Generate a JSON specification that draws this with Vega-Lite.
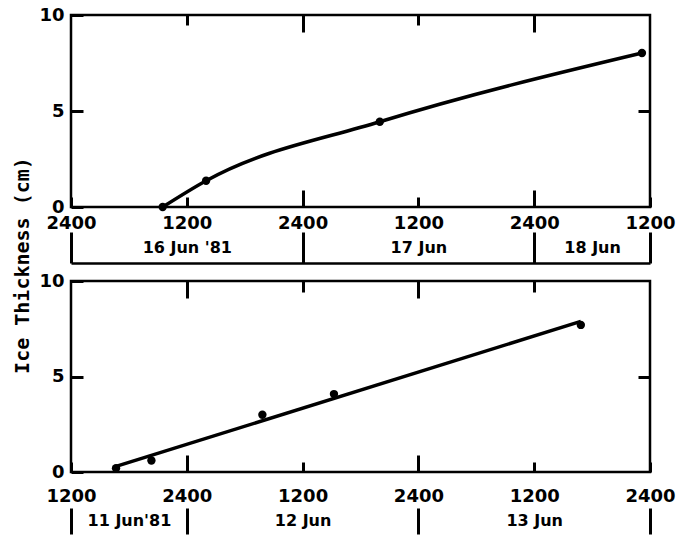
{
  "$schema": "https://vega.github.io/schema/vega-lite/v6.json",
  "padding": {"left": 10, "top": 4, "right": 0, "bottom": 0},
  "bounds": "flush",
  "spacing": 74,
  "config": {
    "view": {"stroke": "#000", "strokeWidth": 2.5},
    "axis": {
      "grid": false, "domain": false, "ticks": true,
      "labelFont": "DejaVu Sans", "labelFontSize": 18, "labelFontWeight": "bold", "labelColor": "#000",
      "tickColor": "#000", "tickWidth": 3, "labelFlush": false, "labelOverlap": false
    }
  },
  "vconcat": [
    {
      "width": 579, "height": 192,
      "data": {
        "values": [
          {"time": "1981-06-16T09:30", "thickness": 0},
          {"time": "1981-06-16T14:00", "thickness": 1.37},
          {"time": "1981-06-17T08:00", "thickness": 4.44},
          {"time": "1981-06-18T11:10", "thickness": 8.02}
        ],
        "format": {"parse": {"time": "date"}}
      },
      "resolve": {"scale": {"x": "independent", "y": "independent"}, "axis": {"x": "independent", "y": "independent"}},
      "layer": [
        {
          "mark": {"type": "line", "interpolate": "monotone", "color": "#000", "strokeWidth": 3.5},
          "encoding": {
            "x": {"field": "time", "type": "temporal",
              "scale": {"domain": [{"year": 1981, "month": "Jun", "date": 16, "hours": 0}, {"year": 1981, "month": "Jun", "date": 18, "hours": 12}]},
              "axis": {"orient": "bottom", "title": null,
                "values": [{"year": 1981, "month": "Jun", "date": 16, "hours": 0}, {"year": 1981, "month": "Jun", "date": 16, "hours": 12}, {"year": 1981, "month": "Jun", "date": 17, "hours": 0}, {"year": 1981, "month": "Jun", "date": 17, "hours": 12}, {"year": 1981, "month": "Jun", "date": 18, "hours": 0}, {"year": 1981, "month": "Jun", "date": 18, "hours": 12}],
                "labelExpr": "hours(datum.value) == 0 ? '2400' : '1200'",
                "tickSize": -10, "labelPadding": 17, "labelBaseline": "top"}},
            "y": {"field": "thickness", "type": "quantitative",
              "scale": {"domain": [0, 10]},
              "axis": {"orient": "left", "values": [0, 5, 10], "tickSize": -12, "labelPadding": 19, "labelBaseline": "middle",
                "title": "Ice Thickness (cm)", "titleAngle": 270, "titleX": -49, "titleY": 250,
                "titleAlign": "center", "titleBaseline": "middle", "titleFont": "DejaVu Sans Mono",
                "titleFontSize": 20, "titleFontWeight": "bold", "titleColor": "#000"}}
          }
        },
        {
          "mark": {"type": "point", "filled": true, "color": "#000", "size": 70, "opacity": 1},
          "encoding": {
            "x": {"field": "time", "type": "temporal",
              "scale": {"domain": [{"year": 1981, "month": "Jun", "date": 16, "hours": 0}, {"year": 1981, "month": "Jun", "date": 18, "hours": 12}]},
              "axis": null},
            "y": {"field": "thickness", "type": "quantitative", "scale": {"domain": [0, 10]}, "axis": null}
          }
        },
        {
          "mark": {"type": "point", "opacity": 0},
          "encoding": {
            "x": {"field": "time", "type": "temporal",
              "scale": {"domain": [{"year": 1981, "month": "Jun", "date": 16, "hours": 0}, {"year": 1981, "month": "Jun", "date": 18, "hours": 12}]},
              "axis": {"orient": "top", "title": null, "labels": false,
                "values": [{"year": 1981, "month": "Jun", "date": 16, "hours": 12}, {"year": 1981, "month": "Jun", "date": 17, "hours": 12}],
                "tickSize": -10}},
            "y": {"field": "thickness", "type": "quantitative", "scale": {"domain": [0, 10]},
              "axis": {"orient": "right", "title": null, "labels": false, "values": [5], "tickSize": -12}}
          }
        },
        {
          "mark": {"type": "point", "opacity": 0},
          "encoding": {
            "x": {"field": "time", "type": "temporal",
              "scale": {"domain": [{"year": 1981, "month": "Jun", "date": 16, "hours": 0}, {"year": 1981, "month": "Jun", "date": 18, "hours": 12}]},
              "axis": {"orient": "top", "title": null, "labels": false,
                "values": [{"year": 1981, "month": "Jun", "date": 17, "hours": 0}, {"year": 1981, "month": "Jun", "date": 18, "hours": 0}],
                "tickSize": -17}},
            "y": {"field": "thickness", "type": "quantitative", "scale": {"domain": [0, 10]}, "axis": null}
          }
        },
        {
          "mark": {"type": "point", "opacity": 0},
          "encoding": {
            "x": {"field": "time", "type": "temporal",
              "scale": {"domain": [{"year": 1981, "month": "Jun", "date": 16, "hours": 0}, {"year": 1981, "month": "Jun", "date": 18, "hours": 12}]},
              "axis": {"orient": "bottom", "title": null, "labels": false,
                "values": [{"year": 1981, "month": "Jun", "date": 17, "hours": 0}, {"year": 1981, "month": "Jun", "date": 18, "hours": 0}],
                "tickSize": -17}},
            "y": {"field": "thickness", "type": "quantitative", "scale": {"domain": [0, 10]}, "axis": null}
          }
        },
        {
          "mark": {"type": "point", "opacity": 0},
          "encoding": {
            "x": {"field": "time", "type": "temporal",
              "scale": {"domain": [{"year": 1981, "month": "Jun", "date": 16, "hours": 0}, {"year": 1981, "month": "Jun", "date": 18, "hours": 12}]},
              "axis": {"orient": "bottom", "offset": 56, "title": null, "labels": false,
                "values": [{"year": 1981, "month": "Jun", "date": 16, "hours": 0}, {"year": 1981, "month": "Jun", "date": 17, "hours": 0}, {"year": 1981, "month": "Jun", "date": 18, "hours": 0}, {"year": 1981, "month": "Jun", "date": 18, "hours": 12}],
                "tickSize": -31, "domain": true, "domainColor": "#000", "domainWidth": 2.5}},
            "y": {"field": "thickness", "type": "quantitative", "scale": {"domain": [0, 10]}, "axis": null}
          }
        },
        {
          "mark": {"type": "point", "opacity": 0},
          "encoding": {
            "x": {"field": "time", "type": "temporal",
              "scale": {"domain": [{"year": 1981, "month": "Jun", "date": 16, "hours": 0}, {"year": 1981, "month": "Jun", "date": 18, "hours": 12}]},
              "axis": {"orient": "bottom", "offset": 56, "title": null, "ticks": false, "tickSize": 0,
                "values": [{"year": 1981, "month": "Jun", "date": 16, "hours": 12}, {"year": 1981, "month": "Jun", "date": 17, "hours": 12}, {"year": 1981, "month": "Jun", "date": 18, "hours": 6}],
                "labelExpr": "date(datum.value) == 16 ? \"16 Jun '81\" : date(datum.value) + ' Jun'",
                "labelBaseline": "middle", "labelPadding": -16, "labelFontSize": 16}},
            "y": {"field": "thickness", "type": "quantitative", "scale": {"domain": [0, 10]}, "axis": null}
          }
        }
      ]
    },
    {
      "width": 579, "height": 191,
      "data": {
        "values": [
          {"time": "1981-06-11T16:40", "thickness": 0.2},
          {"time": "1981-06-11T20:20", "thickness": 0.6},
          {"time": "1981-06-12T07:50", "thickness": 3.0},
          {"time": "1981-06-12T15:15", "thickness": 4.08},
          {"time": "1981-06-13T16:50", "thickness": 7.7}
        ],
        "format": {"parse": {"time": "date"}}
      },
      "resolve": {"scale": {"x": "independent", "y": "independent"}, "axis": {"x": "independent", "y": "independent"}},
      "layer": [
        {
          "transform": [{"regression": "thickness", "on": "time"}],
          "mark": {"type": "line", "color": "#000", "strokeWidth": 3.5},
          "encoding": {
            "x": {"field": "time", "type": "temporal",
              "scale": {"domain": [{"year": 1981, "month": "Jun", "date": 11, "hours": 12}, {"year": 1981, "month": "Jun", "date": 14, "hours": 0}]},
              "axis": {"orient": "bottom", "title": null,
                "values": [{"year": 1981, "month": "Jun", "date": 11, "hours": 12}, {"year": 1981, "month": "Jun", "date": 12, "hours": 0}, {"year": 1981, "month": "Jun", "date": 12, "hours": 12}, {"year": 1981, "month": "Jun", "date": 13, "hours": 0}, {"year": 1981, "month": "Jun", "date": 13, "hours": 12}, {"year": 1981, "month": "Jun", "date": 14, "hours": 0}],
                "labelExpr": "hours(datum.value) == 0 ? '2400' : '1200'",
                "tickSize": -10, "labelPadding": 25, "labelBaseline": "top"}},
            "y": {"field": "thickness", "type": "quantitative",
              "scale": {"domain": [0, 10]},
              "axis": {"orient": "left", "values": [0, 5, 10], "tickSize": -12, "labelPadding": 19, "labelBaseline": "middle", "title": null}}
          }
        },
        {
          "mark": {"type": "point", "filled": true, "color": "#000", "size": 70, "opacity": 1},
          "encoding": {
            "x": {"field": "time", "type": "temporal",
              "scale": {"domain": [{"year": 1981, "month": "Jun", "date": 11, "hours": 12}, {"year": 1981, "month": "Jun", "date": 14, "hours": 0}]},
              "axis": null},
            "y": {"field": "thickness", "type": "quantitative", "scale": {"domain": [0, 10]}, "axis": null}
          }
        },
        {
          "mark": {"type": "point", "opacity": 0},
          "encoding": {
            "x": {"field": "time", "type": "temporal",
              "scale": {"domain": [{"year": 1981, "month": "Jun", "date": 11, "hours": 12}, {"year": 1981, "month": "Jun", "date": 14, "hours": 0}]},
              "axis": {"orient": "top", "title": null, "labels": false,
                "values": [{"year": 1981, "month": "Jun", "date": 12, "hours": 12}, {"year": 1981, "month": "Jun", "date": 13, "hours": 12}],
                "tickSize": -11}},
            "y": {"field": "thickness", "type": "quantitative", "scale": {"domain": [0, 10]},
              "axis": {"orient": "right", "title": null, "labels": false, "values": [5], "tickSize": -12}}
          }
        },
        {
          "mark": {"type": "point", "opacity": 0},
          "encoding": {
            "x": {"field": "time", "type": "temporal",
              "scale": {"domain": [{"year": 1981, "month": "Jun", "date": 11, "hours": 12}, {"year": 1981, "month": "Jun", "date": 14, "hours": 0}]},
              "axis": {"orient": "top", "title": null, "labels": false,
                "values": [{"year": 1981, "month": "Jun", "date": 12, "hours": 0}, {"year": 1981, "month": "Jun", "date": 13, "hours": 0}],
                "tickSize": -17}},
            "y": {"field": "thickness", "type": "quantitative", "scale": {"domain": [0, 10]}, "axis": null}
          }
        },
        {
          "mark": {"type": "point", "opacity": 0},
          "encoding": {
            "x": {"field": "time", "type": "temporal",
              "scale": {"domain": [{"year": 1981, "month": "Jun", "date": 11, "hours": 12}, {"year": 1981, "month": "Jun", "date": 14, "hours": 0}]},
              "axis": {"orient": "bottom", "title": null, "labels": false,
                "values": [{"year": 1981, "month": "Jun", "date": 12, "hours": 0}, {"year": 1981, "month": "Jun", "date": 13, "hours": 0}],
                "tickSize": -17}},
            "y": {"field": "thickness", "type": "quantitative", "scale": {"domain": [0, 10]}, "axis": null}
          }
        },
        {
          "mark": {"type": "point", "opacity": 0},
          "encoding": {
            "x": {"field": "time", "type": "temporal",
              "scale": {"domain": [{"year": 1981, "month": "Jun", "date": 11, "hours": 12}, {"year": 1981, "month": "Jun", "date": 14, "hours": 0}]},
              "axis": {"orient": "bottom", "offset": 36, "title": null, "labels": false,
                "values": [{"year": 1981, "month": "Jun", "date": 11, "hours": 12}, {"year": 1981, "month": "Jun", "date": 12, "hours": 0}, {"year": 1981, "month": "Jun", "date": 13, "hours": 0}, {"year": 1981, "month": "Jun", "date": 14, "hours": 0}],
                "tickSize": 26}},
            "y": {"field": "thickness", "type": "quantitative", "scale": {"domain": [0, 10]}, "axis": null}
          }
        },
        {
          "mark": {"type": "point", "opacity": 0},
          "encoding": {
            "x": {"field": "time", "type": "temporal",
              "scale": {"domain": [{"year": 1981, "month": "Jun", "date": 11, "hours": 12}, {"year": 1981, "month": "Jun", "date": 14, "hours": 0}]},
              "axis": {"orient": "bottom", "offset": 36, "title": null, "ticks": false, "tickSize": 0,
                "values": [{"year": 1981, "month": "Jun", "date": 11, "hours": 18}, {"year": 1981, "month": "Jun", "date": 12, "hours": 12}, {"year": 1981, "month": "Jun", "date": 13, "hours": 12}],
                "labelExpr": "date(datum.value) == 11 ? \"11 Jun'81\" : date(datum.value) + ' Jun'",
                "labelBaseline": "middle", "labelPadding": 12, "labelFontSize": 16}},
            "y": {"field": "thickness", "type": "quantitative", "scale": {"domain": [0, 10]}, "axis": null}
          }
        }
      ]
    }
  ]
}
